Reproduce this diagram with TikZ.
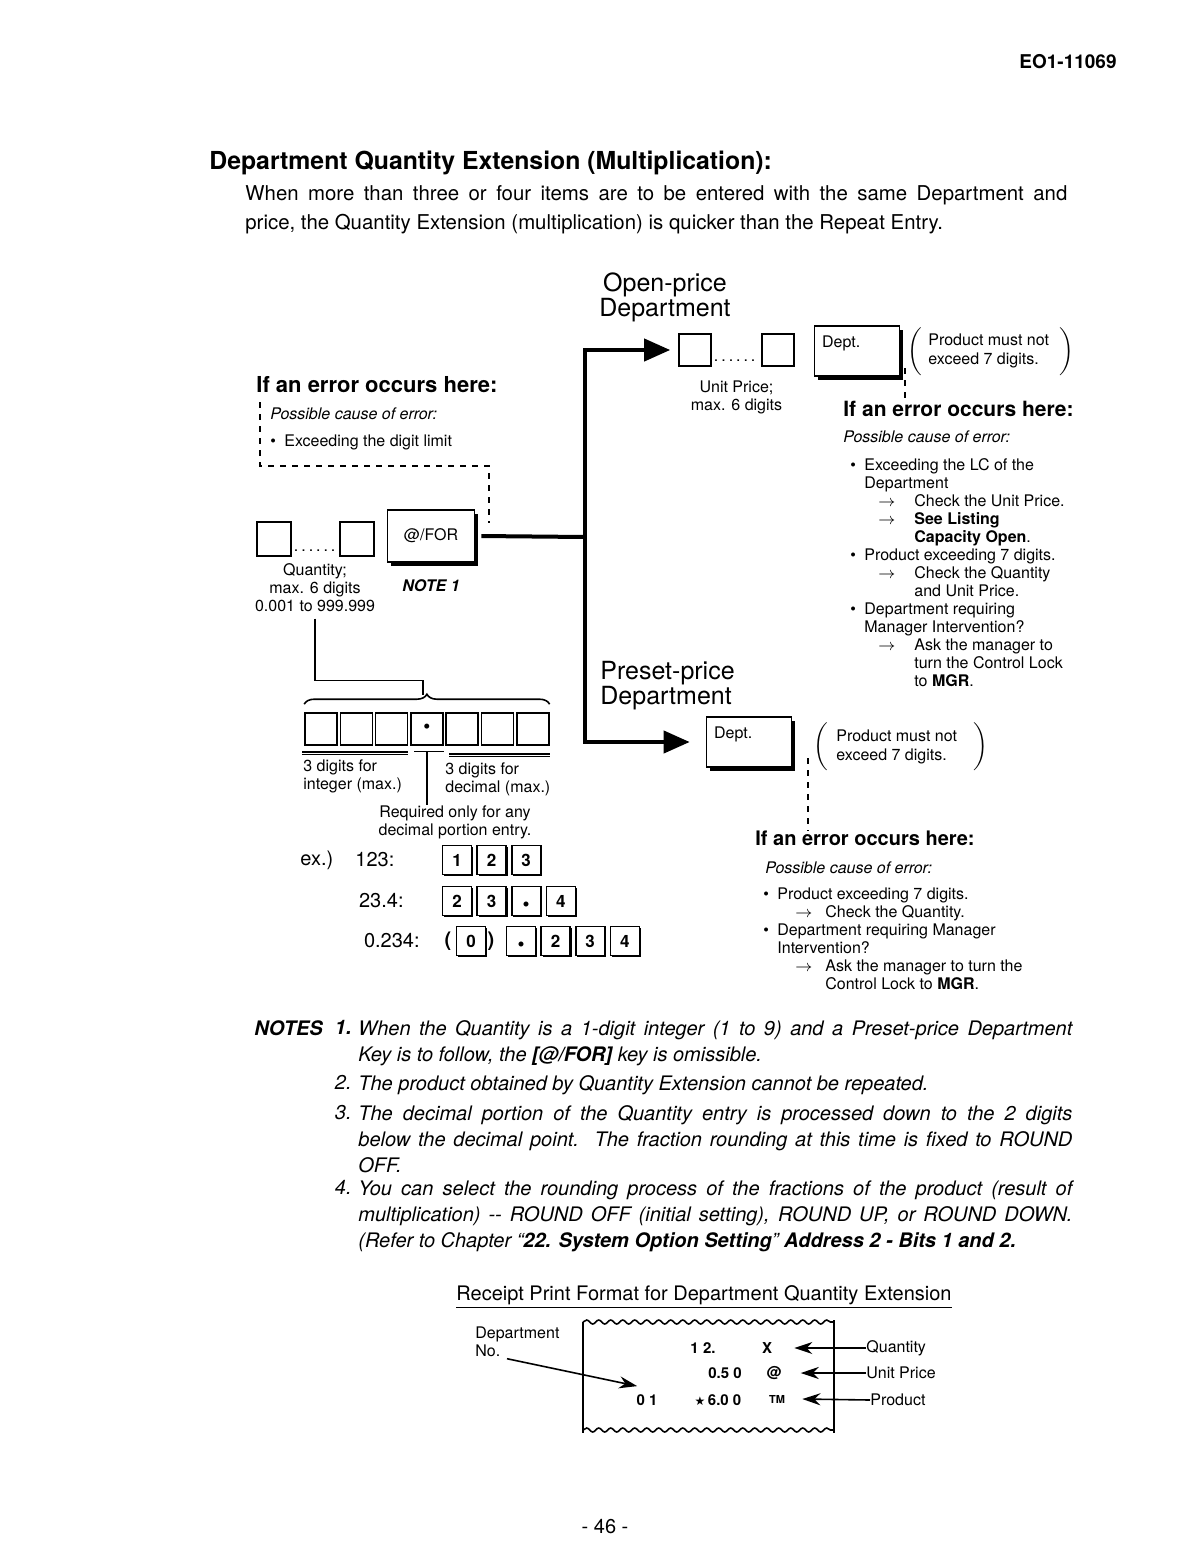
\documentclass[tikz,border=0pt]{standalone}
\usepackage{fontspec}
\setmainfont{TeX Gyre Heros}
\newfontfamily\symfont{DejaVu Sans}
\usetikzlibrary{arrows.meta, positioning, calc, shadows, decorations.pathreplacing, decorations.pathmorphing}

\newcommand{\fs}[2]{\fontsize{#1}{#2}\selectfont}
\newcommand{\bul}{\makebox[7pt][l]{\textbullet}}
\newcommand{\keydot}{\raisebox{-1.5pt}{\fs{10}{10}\textbullet}}
\newcommand{\keydots}[1]{\hbox to #1{\leaders\hbox to 3.7pt{\hss.\hss}\hfill}}
\newcommand{\bigparen}[1]{$\left#1\rule[-10pt]{0pt}{21pt}\right.$}

\begin{document}
\begin{tikzpicture}[x=0.5pt, y=-0.5pt,
    txt/.style={inner sep=0pt, font=\fs{8}{9}},
    musttxt/.style={inner sep=0pt, align=left, anchor=west, font=\fs{8}{9.5}},
    errhead/.style={inner sep=0pt, anchor=west, font=\fs{10.5}{12}\bfseries},
    causetxt/.style={inner sep=0pt, anchor=west, font=\fs{8}{9}\itshape},
    deptlab/.style={inner sep=0pt, font=\fs{12.5}{12.5}},
    plainkey/.style={draw, thick, minimum size=16pt, inner sep=0pt},
    fnkey/.style={draw, thick, fill=white, inner sep=0pt, font=\fs{8}{9},
      general shadow={fill=black, shadow xshift=1.8pt, shadow yshift=-1.8pt}},
    numkey/.style={draw, thick, fill=white, minimum size=14.5pt, inner sep=0pt,
      text height=6.3pt, text depth=0pt, font=\fs{8.5}{9}\bfseries,
      general shadow={fill=black, shadow xshift=0.7pt, shadow yshift=-0.7pt}},
    digitbox/.style={draw, thick, minimum size=16pt, inner sep=0pt},
    paren/.style={inner sep=0pt},
    bus/.style={line width=2pt},
    errlink/.style={thick, dashed},
    notetxt/.style={inner sep=0pt, anchor=north west, text width=357pt,
      align=justify, font=\fs{10}{13}\itshape},
    notenum/.style={inner sep=0pt, anchor=north east, font=\fs{10}{13}\itshape},
    rcpt/.style={inner sep=0pt, font=\fs{7.5}{8}\bfseries},
    wavy/.style={thick, decorate, decoration={snake, amplitude=1pt, segment length=6pt}},
    >={Stealth[length=9pt, width=6pt]}
  ]
  \useasboundingbox (0,0) rectangle (1202,1560);
  \fill[white] (0,0) rectangle (1202,1560);

  % page head
  \node[inner sep=0pt, anchor=east, font=\fs{9.5}{10}\bfseries] (docno) at (1117,62) {EO1-11069};
  \node[inner sep=0pt, anchor=west, font=\fs{12.4}{14}\bfseries] (title) at (209,163)
    {Department Quantity Extension (Multiplication):};
  \node[inner sep=0pt, anchor=north west, text width=411pt, align=justify,
    font=\fs{10.2}{14.5}] (intro) at (245,185)
    {When more than three or four items are to be entered with the same Department and\linebreak
     price, the Quantity Extension (multiplication) is quicker than the Repeat Entry.};

  % quantity entry
  \node[errhead, font=\fs{11}{12}\bfseries] (qerr) at (256,385) {If an error occurs here:};
  \node[causetxt] (qcause) at (270,414) {Possible cause of error:};
  \node[txt, anchor=west] (qitem) at (270,442) {\bul Exceeding the digit limit};
  \node[plainkey, minimum size=17pt] (q1) at (274,539) {};
  \node[plainkey, minimum size=17pt] (q2) at (357,539) {};
  \node[txt, anchor=base] (qdots) at ($(q1.south)!0.5!(q2.south)+(0,-5)$) {\keydots{23pt}};
  \node[fnkey, minimum width=43.5pt, minimum height=26pt] (forkey) at (431,536) {@/FOR};
  \node[txt, align=center] (qlab) at (315,588) {Quantity;\\max. 6 digits\\0.001 to 999.999};
  \node[inner sep=0pt, font=\fs{8}{9}\bfseries\itshape, below=8pt of forkey] (note1) {NOTE 1};
  \coordinate (qerrtop) at (260,402);
  \coordinate (qerrend) at (489,523);
  \draw[errlink] (qerrtop) |- (qerrend |- 0,466) -- (qerrend);

  % open-price department
  \node[deptlab, align=center] (openlab) at (665,297) {Open-price\\Department};
  \node[plainkey] (up1) at (695,350) {};
  \node[plainkey] (up2) at (778,350) {};
  \node[txt, anchor=base] (updots) at ($(up1.south)!0.5!(up2.south)+(0,-5)$) {\keydots{24pt}};
  \node[txt, align=center, below=9pt of updots] (uplab) {Unit Price;\\max. 6 digits};
  \node[fnkey, minimum width=42.5pt, minimum height=25pt] (odept) at (857,351) {};
  \node[inner sep=0pt, anchor=north west, font=\fs{8}{9}] (odeptlab)
    at ([shift={(4pt,-5pt)}]odept.north west) {Dept.};
  \node[paren] (olp) at (916,352) {\bigparen(};
  \node[musttxt] (omust) at (928,351) {Product must not\\exceed 7 digits.};
  \node[paren] (orp) at (1068,352) {\bigparen)};
  \node[errhead] (oerr) at (843,409) {If an error occurs here:};
  \node[causetxt] (ocause) at (843,437) {Possible cause of error:};
  \node[txt, anchor=north west, align=left] (olist) at (850,458) {%
    \bul Exceeding the LC of the\\
    \hspace*{7pt}Department\\
    \hspace*{14pt}\makebox[18pt][l]{$\rightarrow$}Check the Unit Price.\\
    \hspace*{14pt}\makebox[18pt][l]{$\rightarrow$}\textbf{See Listing}\\
    \hspace*{32pt}\textbf{Capacity Open}.\\
    \bul Product exceeding 7 digits.\\
    \hspace*{14pt}\makebox[18pt][l]{$\rightarrow$}Check the Quantity\\
    \hspace*{32pt}and Unit Price.\\
    \bul Department requiring\\
    \hspace*{7pt}Manager Intervention?\\
    \hspace*{14pt}\makebox[18pt][l]{$\rightarrow$}Ask the manager to\\
    \hspace*{32pt}turn the Control Lock\\
    \hspace*{32pt}to \textbf{MGR}.};
  \coordinate (oerrtop) at (905,368);
  \draw[errlink] (oerrtop) -- (oerrtop |- oerr.north);

  % preset-price department
  \node[deptlab, align=left, anchor=west] (presetlab) at (600,686) {Preset-price\\Department};
  \node[fnkey, minimum width=42.5pt, minimum height=25pt] (pdept) at (749,742) {};
  \node[inner sep=0pt, anchor=north west, font=\fs{8}{9}] (pdeptlab)
    at ([shift={(4pt,-5pt)}]pdept.north west) {Dept.};
  \node[paren] (plp) at (822,747) {\bigparen(};
  \node[musttxt] (pmust) at (836,747) {Product must not\\exceed 7 digits.};
  \node[paren] (prp) at (982,747) {\bigparen)};
  \node[errhead, font=\fs{10}{12}\bfseries] (perr) at (755,838) {If an error occurs here:};
  \node[causetxt] (pcause) at (765,868) {Possible cause of error:};
  \node[txt, anchor=north west, align=left] (plist) at (763,887) {%
    \bul Product exceeding 7 digits.\\
    \hspace*{16pt}\makebox[15pt][l]{$\rightarrow$}Check the Quantity.\\
    \bul Department requiring Manager\\
    \hspace*{7pt}Intervention?\\
    \hspace*{16pt}\makebox[15pt][l]{$\rightarrow$}Ask the manager to turn the\\
    \hspace*{31pt}Control Lock to \textbf{MGR}.};
  \coordinate (perrtop) at (808,758);
  \draw[errlink] (perrtop) -- (perrtop |- perr.north);

  % bus to the department keys
  \coordinate (junc) at (585,537);
  \draw[bus] ([xshift=3pt]forkey.east) -- (junc);
  \draw[bus, -{Triangle[length=13pt, width=11pt]}] (junc) |- ([xshift=-4pt]up1.west);
  \draw[bus, -{Triangle[length=13pt, width=11pt]}] (junc) |- ([xshift=-8pt]pdept.west);

  % digit layout of the quantity
  \node[digitbox] (d1) at (321,729) {};
  \node[digitbox, right=0.85pt of d1] (d2) {};
  \node[digitbox, right=0.85pt of d2] (d3) {};
  \node[digitbox, right=0.85pt of d3] (d4) {\raisebox{-1.5pt}{\textbullet}};
  \node[digitbox, right=0.85pt of d4] (d5) {};
  \node[digitbox, right=0.85pt of d5] (d6) {};
  \node[digitbox, right=0.85pt of d6] (d7) {};
  \coordinate (bracetip) at (423,695);
  \draw[thick, decorate, decoration={brace, amplitude=5pt}]
    ([yshift=4pt]d1.north west) -- ([yshift=4pt]d7.north east);
  \draw[thick] ([yshift=-3pt]qlab.south) -- ++(0,62) -| (bracetip);
  \draw[thick] ([shift={(-1pt,-3pt)}]d1.south west) -- ([yshift=-3pt]d3.south east);
  \draw ([shift={(-1pt,-4.3pt)}]d1.south west) -- ([yshift=-4.3pt]d3.south east);
  \draw ([shift={(2pt,-3pt)}]d4.south west) -- ([yshift=-3pt]d4.south east);
  \draw[thick] ([shift={(2pt,-4pt)}]d5.south west) -- ([yshift=-4pt]d7.south east);
  \draw ([shift={(2pt,-5.3pt)}]d5.south west) -- ([yshift=-5.3pt]d7.south east);
  \node[txt, anchor=north west, align=left] (intlab) at (303,759) {3 digits for\\integer (max.)};
  \node[txt, anchor=north west, align=left] (declab) at (445,762) {3 digits for\\decimal (max.)};
  \node[txt, anchor=north, align=center] (req) at (455,805) {Required only for any\\decimal portion entry.};
  \draw[thick] ([yshift=-3pt]d4.south) -- (d4.south |- req.north);

  % examples
  \node[inner sep=0pt, anchor=west, font=\fs{10}{12}] (exlab) at (300,860) {ex.)};
  \node[inner sep=0pt, anchor=west, font=\fs{10}{12}] (ex1lab) at (355,860) {123:};
  \node[inner sep=0pt, anchor=east, font=\fs{10}{12}] (ex2lab) at (404,901) {23.4:};
  \node[inner sep=0pt, anchor=east, font=\fs{10}{12}] (ex3lab) at (420,941) {0.234:};
  \node[numkey] (ka1) at (457,860) {1};
  \node[numkey, right=2pt of ka1] (ka2) {2};
  \node[numkey, right=2pt of ka2] (ka3) {3};
  \node[numkey] (kb1) at (457,901) {2};
  \node[numkey, right=2pt of kb1] (kb2) {3};
  \node[numkey, right=2pt of kb2] (kb3) {\keydot};
  \node[numkey, right=2pt of kb3] (kb4) {4};
  \node[inner sep=0pt, font=\fs{10}{12}\bfseries] (kclp) at (448,941) {(};
  \node[numkey] (kc0) at (471,941) {0};
  \node[inner sep=0pt, font=\fs{10}{12}\bfseries] (kcrp) at (491,941) {)};
  \node[numkey] (kc1) at (521,941) {\keydot};
  \node[numkey, right=2pt of kc1] (kc2) {2};
  \node[numkey, right=2pt of kc2] (kc3) {3};
  \node[numkey, right=2pt of kc3] (kc4) {4};

  % notes
  \node[inner sep=0pt, anchor=north west, font=\fs{10}{13}\bfseries\itshape] (noteshead) at (254,1020) {NOTES};
  \node[notenum, font=\fs{10}{13}\bfseries\itshape] (n1num) at (352,1020) {1.};
  \node[notetxt] (n1) at (358,1020)
    {When the Quantity is a 1-digit integer (1 to 9) and a Preset-price Department\linebreak
     Key is to follow, the \textbf{[@/FOR]} key is omissible.};
  \node[notenum] (n2num) at (352,1075) {2.};
  \node[notetxt] (n2) at (358,1075)
    {The product obtained by Quantity Extension cannot be repeated.};
  \node[notenum] (n3num) at (352,1105) {3.};
  \node[notetxt] (n3) at (358,1105)
    {The decimal portion of the Quantity entry is processed down to the 2 digits\linebreak
     below the decimal point.\ \ The fraction rounding at this time is fixed to ROUND\linebreak
     OFF.};
  \node[notenum] (n4num) at (352,1180) {4.};
  \node[notetxt] (n4) at (358,1180)
    {You can select the rounding process of the fractions of the product (result of\linebreak
     multiplication) -{}- ROUND OFF (initial setting), ROUND UP, or ROUND DOWN.\linebreak
     (Refer to Chapter “\textbf{22. System Option Setting}” \textbf{Address 2 - Bits 1 and 2.}};

  % receipt
  \node[inner sep=0pt, font=\fs{10}{11}] (rtitle) at (704,1297)
    {\underline{Receipt Print Format for Department Quantity Extension}};
  \draw[wavy] (583,1322) -- (834,1322);
  \draw[wavy] (583,1430) -- (834,1430);
  \draw[thick] (583,1322) -- (583,1433);
  \draw[thick] (834,1320) -- (834,1433);
  \node[rcpt] (rq) at (703,1348) {1 2.};
  \node[rcpt] (rx) at (767,1348) {X};
  \node[rcpt] (rup) at (725,1373) {0.5 0};
  \node[rcpt] (rat) at (774,1373) {@};
  \node[rcpt] (r01) at (647,1400) {0 1};
  \node[rcpt] (rprod) at (718,1400) {{\symfont\fs{6}{6}★}\,6.0 0};
  \node[rcpt, font=\fs{5.5}{6}\bfseries] (rtm) at (777,1399) {TM};
  \node[txt, anchor=north west, align=left] (deptno) at (475,1326) {Department\\No.};
  \node[txt, anchor=west] (lqty) at (866,1348) {Quantity};
  \node[txt, anchor=west] (lup) at (866,1373) {Unit Price};
  \node[txt, anchor=west] (lprod) at (870,1400) {Product};
  \draw[thick, ->] (lqty.west) -- ([xshift=11pt]rx.east);
  \draw[thick, ->] (lup.west) -- ([xshift=9.5pt]rat.east);
  \draw[thick, ->] (lprod.west) -- ([xshift=8.5pt]rtm.east);
  \draw[thick, ->] ([shift={(16pt,-1pt)}]deptno.south west) -- ([shift={(0.5pt,4pt)}]r01.north west);

  \node[inner sep=0pt, font=\fs{10}{12}] (pageno) at (605,1527) {- 46 -};
\end{tikzpicture}
\end{document}
